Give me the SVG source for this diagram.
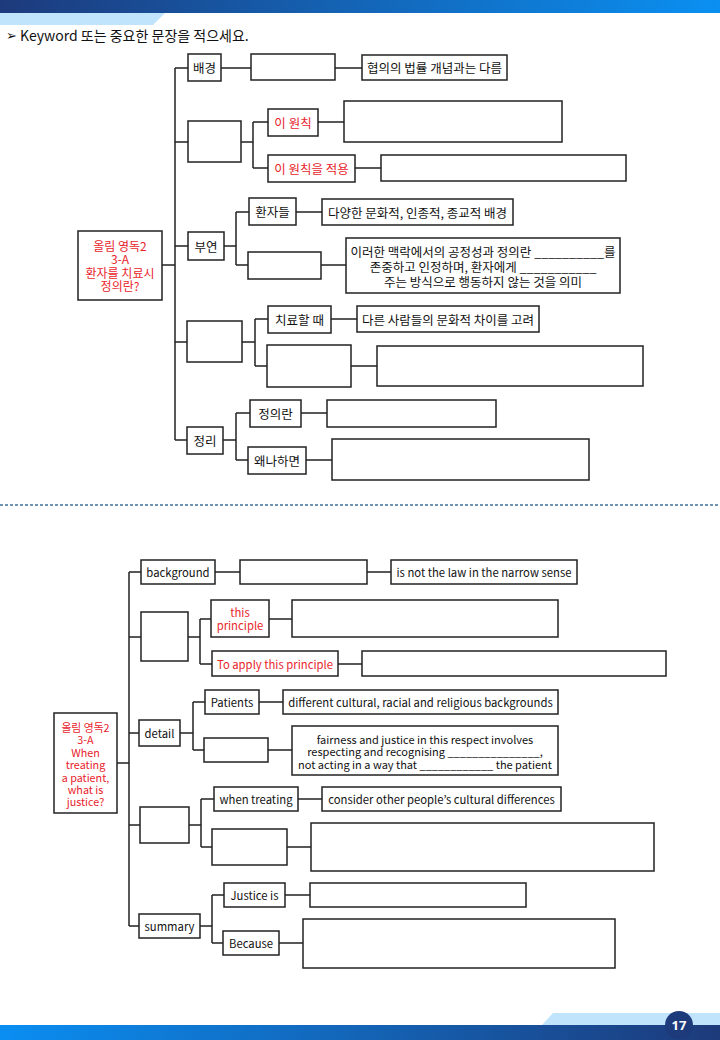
<svg xmlns="http://www.w3.org/2000/svg" width="720" height="1040" viewBox="0 0 720 1040">
<defs>
<linearGradient id="gTop" x1="0" y1="0" x2="1" y2="0">
<stop offset="0" stop-color="#1d3a7c"/><stop offset="1" stop-color="#0a90f2"/>
</linearGradient>
<linearGradient id="gBot" x1="0" y1="0" x2="1" y2="0">
<stop offset="0" stop-color="#0a8ef2"/><stop offset="1" stop-color="#1d3a7a"/>
</linearGradient>
<style>
.box{fill:#fff;stroke:#222;stroke-width:1.5}
.t{font-family:"Noto Sans CJK KR","Noto Sans",sans-serif;font-size:12.5px;fill:#111;text-anchor:middle;dominant-baseline:central}
.e{font-size:11.3px}
.m{font-size:11px}
.rk{font-size:12px}
.rt{font-size:10.8px}
.r{fill:#e8242c}
.ln{fill:none;stroke:#222;stroke-width:1.5}
</style>
</defs>
<rect width="720" height="1040" fill="#fff"/>
<g id="header">
<rect x="0" y="0" width="720" height="13" fill="url(#gTop)"/>
<polygon points="0,13 165,13 153,25 0,25" fill="#c0e4fb"/>
<text x="6" y="35" font-family="'Noto Sans CJK KR','DejaVu Sans',sans-serif" font-size="14" fill="#111" dominant-baseline="central"><tspan font-family="'DejaVu Sans',sans-serif" font-size="13">➢</tspan> Keyword 또는 중요한 문장을 적으세요.</text>
</g>
<line id="divider" x1="0" y1="505" x2="720" y2="505" stroke="#6f93b3" stroke-width="2" stroke-dasharray="3 2"/>
<g id="footer">
<polygon points="542,1025 553,1013 720,1013 720,1025" fill="#c0e4fb"/>
<rect x="0" y="1025" width="720" height="15" fill="url(#gBot)"/>
<circle cx="679" cy="1025" r="14" fill="#1d3a7a"/>
<text x="679" y="1025" font-family="'Noto Sans','DejaVu Sans',sans-serif" font-size="13" font-weight="bold" fill="#fff" text-anchor="middle" dominant-baseline="central">17</text>
</g>
<g id="connectors">
<path class="ln" d="M161,265H175M175,68V440M175,68H188M221,68H251M335,68H362M175,142H188M241,142H253M253,122V168M253,122H268M253,168H268M318,122H344M355,168H381M175,246H188M224,246H236M236,212V265M236,212H249M236,265H248M296,212H322M321,265H346M175,342H187M242,342H255M255,319V366M255,319H268M255,366H267M331,319H357M351,366H377M175,440H187M223,440H236M236,413V460M236,413H250M236,460H248M301,413H327M306,460H332"/>
<path class="ln" d="M117,763H129M129,572V926M129,572H141M215,572H240M367,572H391M129,637H141M188,637H200M200,619V664M200,619H211M200,664H212M269,619H292M338,664H362M129,733H139M180,733H193M193,702V750M193,702H205M193,750H204M259,702H283M268,750H292M129,825H140M189,825H201M201,799V847M201,799H214M201,847H212M298,799H322M287,847H311M129,926H139M200,926H212M212,895V943M212,895H224M212,943H223M285,895H310M279,943H303"/>
</g>
<g id="top-root"><rect class="box" x="78" y="231" width="84" height="69"/>
<text class="t rk r" x="120"><tspan x="120" y="245">올림 영독2</tspan><tspan x="120" y="258">3-A</tspan><tspan x="120" y="271.5">환자를 치료시</tspan><tspan x="120" y="285">정의란?</tspan></text></g>
<g id="t-bg"><rect class="box" x="188" y="54" width="33" height="27"/><text class="t" x="204.5" y="67.5">배경</text></g>
<g id="t-bg-blank"><rect class="box" x="251" y="54" width="84" height="26"/></g>
<g id="t-bg-text"><rect class="box" x="362" y="55" width="145" height="25"/><text class="t" x="434.5" y="67.5">협의의 법률 개념과는 다름</text></g>
<g id="t-b2"><rect class="box" x="188" y="121" width="53" height="41"/></g>
<g id="t-principle"><rect class="box" x="268" y="109" width="50" height="27"/><text class="t r" x="293" y="122.5">이 원칙</text></g>
<g id="t-principle-blank"><rect class="box" x="344" y="101" width="218" height="41"/></g>
<g id="t-apply"><rect class="box" x="268" y="155" width="87" height="27"/><text class="t r" x="311.5" y="168.5">이 원칙을 적용</text></g>
<g id="t-apply-blank"><rect class="box" x="381" y="155" width="245" height="26"/></g>
<g id="t-detail"><rect class="box" x="188" y="232" width="36" height="28"/><text class="t" x="206" y="246">부연</text></g>
<g id="t-patients"><rect class="box" x="249" y="198" width="47" height="27"/><text class="t" x="272.5" y="211.5">환자들</text></g>
<g id="t-patients-text"><rect class="box" x="322" y="199" width="191" height="26"/><text class="t" x="417.5" y="212">다양한 문화적, 인종적, 종교적 배경</text></g>
<g id="t-d-blank"><rect class="box" x="248" y="252" width="73" height="27"/></g>
<g id="t-d-text"><rect class="box" x="346" y="238" width="274" height="55"/>
<text class="t" x="483"><tspan x="483" y="251">이러한 맥락에서의 공정성과 정의란 __________를</tspan><tspan x="483" y="266">존중하고 인정하며, 환자에게 ___________</tspan><tspan x="483" y="281">주는 방식으로 행동하지 않는 것을 의미</tspan></text></g>
<g id="t-b4"><rect class="box" x="187" y="321" width="55" height="41"/></g>
<g id="t-when"><rect class="box" x="268" y="306" width="63" height="27"/><text class="t" x="299.5" y="319.5">치료할 때</text></g>
<g id="t-when-text"><rect class="box" x="357" y="306" width="182" height="26"/><text class="t" x="448" y="319">다른 사람들의 문화적 차이를 고려</text></g>
<g id="t-b4-blank"><rect class="box" x="267" y="345" width="84" height="42"/></g>
<g id="t-b4-blank2"><rect class="box" x="377" y="346" width="266" height="40"/></g>
<g id="t-summary"><rect class="box" x="187" y="427" width="36" height="27"/><text class="t" x="205" y="440.5">정리</text></g>
<g id="t-justice"><rect class="box" x="250" y="400" width="51" height="27"/><text class="t" x="275.5" y="413.5">정의란</text></g>
<g id="t-justice-blank"><rect class="box" x="327" y="400" width="169" height="27"/></g>
<g id="t-because"><rect class="box" x="248" y="447" width="58" height="27"/><text class="t" x="277" y="460.5">왜나하면</text></g>
<g id="t-because-blank"><rect class="box" x="332" y="439" width="257" height="41"/></g>
<g id="bottom-root"><rect class="box" x="54" y="713" width="63" height="100"/>
<text class="t rt r" x="85.5"><tspan x="85.5" y="727">올림 영독2</tspan><tspan x="85.5" y="739">3-A</tspan><tspan x="85.5" y="751.5">When</tspan><tspan x="85.5" y="764">treating</tspan><tspan x="85.5" y="776.5">a patient,</tspan><tspan x="85.5" y="789">what is</tspan><tspan x="85.5" y="801">justice?</tspan></text></g>
<g id="b-bg"><rect class="box" x="141" y="560" width="74" height="24"/><text class="t e" x="178" y="572">background</text></g>
<g id="b-bg-blank"><rect class="box" x="240" y="560" width="127" height="24"/></g>
<g id="b-bg-text"><rect class="box" x="391" y="560" width="186" height="24"/><text class="t e" x="484" y="572">is not the law in the narrow sense</text></g>
<g id="b-b2"><rect class="box" x="141" y="612" width="47" height="49"/></g>
<g id="b-principle"><rect class="box" x="211" y="600" width="58" height="37"/><text class="t e r" x="240"><tspan x="240" y="612">this</tspan><tspan x="240" y="625">principle</tspan></text></g>
<g id="b-principle-blank"><rect class="box" x="292" y="600" width="266" height="37"/></g>
<g id="b-apply"><rect class="box" x="212" y="651" width="126" height="25"/><text class="t e r" x="275" y="663.5">To apply this principle</text></g>
<g id="b-apply-blank"><rect class="box" x="362" y="651" width="304" height="25"/></g>
<g id="b-detail"><rect class="box" x="139" y="720" width="41" height="26"/><text class="t e" x="159.5" y="733">detail</text></g>
<g id="b-patients"><rect class="box" x="205" y="690" width="54" height="24"/><text class="t e" x="232" y="702">Patients</text></g>
<g id="b-patients-text"><rect class="box" x="283" y="690" width="275" height="24"/><text class="t e" x="420.5" y="702">different cultural, racial and religious backgrounds</text></g>
<g id="b-d-blank"><rect class="box" x="204" y="738" width="64" height="24"/></g>
<g id="b-d-text"><rect class="box" x="292" y="726" width="266" height="49"/>
<text class="t m" x="425"><tspan x="425" y="739">fairness and justice in this respect involves</tspan><tspan x="425" y="751">respecting and recognising _______________,</tspan><tspan x="425" y="764">not acting in a way that ____________ the patient</tspan></text></g>
<g id="b-b4"><rect class="box" x="140" y="807" width="49" height="36"/></g>
<g id="b-when"><rect class="box" x="214" y="787" width="84" height="24"/><text class="t e" x="256" y="799">when treating</text></g>
<g id="b-when-text"><rect class="box" x="322" y="787" width="239" height="24"/><text class="t e" x="441.5" y="799">consider other people’s cultural differences</text></g>
<g id="b-b4-blank"><rect class="box" x="212" y="829" width="75" height="36"/></g>
<g id="b-b4-blank2"><rect class="box" x="311" y="823" width="343" height="48"/></g>
<g id="b-summary"><rect class="box" x="139" y="914" width="61" height="24"/><text class="t e" x="169.5" y="926">summary</text></g>
<g id="b-justice"><rect class="box" x="224" y="883" width="61" height="24"/><text class="t e" x="254.5" y="895">Justice is</text></g>
<g id="b-justice-blank"><rect class="box" x="310" y="883" width="216" height="24"/></g>
<g id="b-because"><rect class="box" x="223" y="931" width="56" height="24"/><text class="t e" x="251" y="943">Because</text></g>
<g id="b-because-blank"><rect class="box" x="303" y="919" width="312" height="49"/></g>
</svg>
